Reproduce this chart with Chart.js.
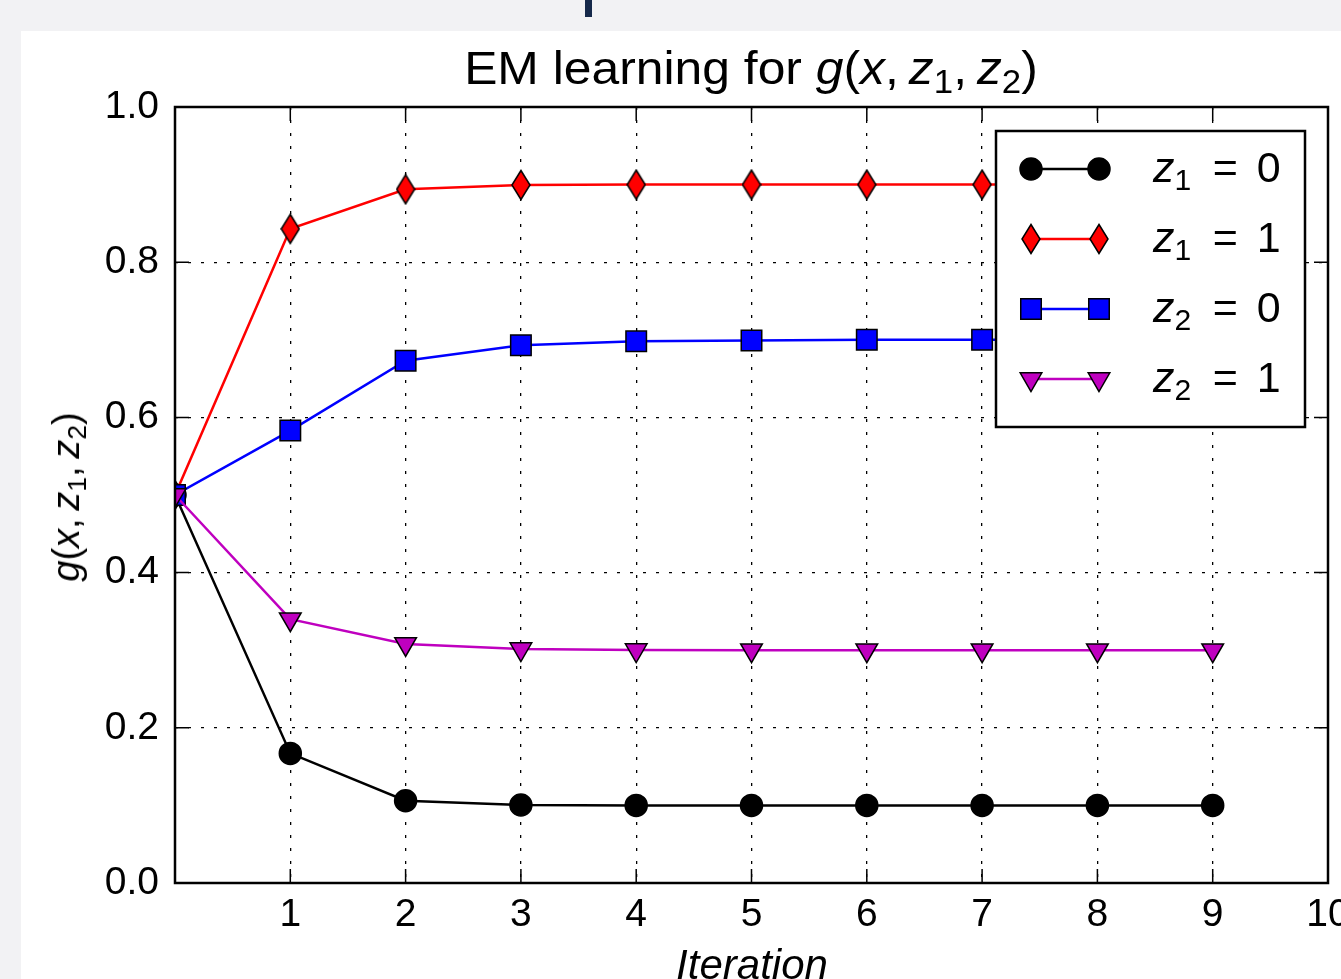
<!DOCTYPE html>
<html>
<head>
<meta charset="utf-8">
<script src="https://cdn.jsdelivr.net/npm/chart.js@4"></script>
<style>
  body { margin:0; width:1341px; height:979px; overflow:hidden; background:#f2f2f4; position:relative; font-family:"Liberation Sans", Arial, sans-serif; }
  #topbar { position:absolute; left:585px; top:0; width:7px; height:17px; background:#16294a; }
  #fig { position:absolute; left:21px; top:31px; right:0; bottom:0; background:#fff; }
  #chart { position:absolute; left:0; top:0; }
  .txt { position:absolute; color:#000; white-space:nowrap; line-height:1; }
  #title { left:751px; top:44px; transform:translateX(-50%) scaleX(1.06); font-size:47px; }
  #xlabel { left:752px; top:944px; transform:translateX(-50%); font-size:42px; font-style:italic; }
  #ylabel { left:66px; top:497px; transform:translate(-50%,-50%) rotate(-90deg); font-size:38px; }
  sub { font-size:70%; vertical-align:-0.28em; line-height:0; }
  .leg { font-size:43px; transform:translateY(-50%); }
  .leg .v { margin-left:7px; }
</style>
</head>
<body>
<div id="topbar"></div>
<div id="fig"></div>
<canvas id="chart" width="1400" height="979"></canvas>
<div class="txt" id="title">EM learning for <i>g</i>(<i>x</i>,&thinsp;<i>z</i><sub>1</sub>,&thinsp;<i>z</i><sub>2</sub>)</div>
<div class="txt" id="xlabel">Iteration</div>
<div class="txt" id="ylabel"><i>g</i>(<i>x</i>,&thinsp;<i>z</i><sub>1</sub>,&thinsp;<i>z</i><sub>2</sub>)</div>
<script>
const iterations = [0, 1, 2, 3, 4, 5, 6, 7, 8, 9];
const z1Is0 = [0.5, 0.167, 0.106, 0.1005, 0.1, 0.1, 0.1, 0.1, 0.1, 0.1];
const z1Is1 = [0.5, 0.843, 0.894, 0.8995, 0.9, 0.9, 0.9, 0.9, 0.9, 0.9];
const z2Is0 = [0.5, 0.583, 0.673, 0.693, 0.698, 0.699, 0.7, 0.7, 0.7, 0.7];
const z2Is1 = [0.5, 0.340, 0.308, 0.3015, 0.3002, 0.3, 0.3, 0.3, 0.3, 0.3];
const legendLabels = [['1', '0'], ['1', '1'], ['2', '0'], ['2', '1']];
const xTickLabels = ['', '1', '2', '3', '4', '5', '6', '7', '8', '9', '10'];
const yTickLabels = ['0.0', '0.2', '0.4', '0.6', '0.8', '1.0'];

const toPoints = arr => iterations.map((x, i) => ({ x: x, y: arr[i] }));

// matplotlib's thin diamond 'd' marker
function thinDiamond(color) {
  const c = document.createElement('canvas');
  c.width = 20; c.height = 32;
  const g = c.getContext('2d');
  g.beginPath();
  g.moveTo(10, 1.5); g.lineTo(19, 16); g.lineTo(10, 30.5); g.lineTo(1, 16);
  g.closePath();
  g.fillStyle = color; g.fill();
  g.lineWidth = 1.5; g.strokeStyle = '#000'; g.stroke();
  return c;
}

const common = { borderWidth: 2.5, pointBorderColor: '#000', pointBorderWidth: 1.5, clip: 0, fill: false, tension: 0 };

const tickLen = 14;
const framePlugin = {
  id: 'frame',
  afterDatasetsDraw(chart) {
    const { ctx, chartArea: a, scales: { x, y } } = chart;
    ctx.save();
    ctx.strokeStyle = '#000';
    ctx.lineWidth = 1.5;
    ctx.beginPath();
    x.ticks.forEach(t => {
      const px = x.getPixelForValue(t.value);
      ctx.moveTo(px, a.bottom); ctx.lineTo(px, a.bottom - tickLen);
      ctx.moveTo(px, a.top); ctx.lineTo(px, a.top + tickLen);
    });
    y.ticks.forEach(t => {
      const py = y.getPixelForValue(t.value);
      ctx.moveTo(a.left, py); ctx.lineTo(a.left + tickLen, py);
      ctx.moveTo(a.right, py); ctx.lineTo(a.right - tickLen, py);
    });
    ctx.stroke();
    ctx.lineWidth = 2.5;
    ctx.strokeRect(a.left, a.top, a.right - a.left, a.bottom - a.top);

    // legend box
    const lx = a.right - 332, ly = a.top + 24, lw = 309, lh = 296;
    ctx.fillStyle = '#fff';
    ctx.fillRect(lx, ly, lw, lh);
    ctx.strokeRect(lx, ly, lw, lh);
    chart.data.datasets.forEach((ds, i) => {
      const rowY = ly + 38 + i * 70;
      const x1 = lx + 35, x2 = lx + 103;
      ctx.lineWidth = ds.borderWidth;
      ctx.strokeStyle = ds.borderColor;
      ctx.beginPath(); ctx.moveTo(x1, rowY); ctx.lineTo(x2, rowY); ctx.stroke();
      const el = chart.getDatasetMeta(i).data[1];
      const ox = el.x, oy = el.y;
      [x1, x2].forEach(px => { el.x = px; el.y = rowY; el.draw(ctx); });
      el.x = ox; el.y = oy;
    });
    ctx.restore();
  }
};

const tickFont = { family: 'Liberation Sans', size: 39 };

const chart = new Chart(document.getElementById('chart'), {
  type: 'line',
  data: {
    datasets: [
      Object.assign({ label: 'z1 = 0', data: toPoints(z1Is0), borderColor: '#000', pointBackgroundColor: '#000', pointStyle: 'circle', pointRadius: 11, order: 4 }, common),
      Object.assign({ label: 'z1 = 1', data: toPoints(z1Is1), borderColor: '#ff0000', pointBackgroundColor: '#ff0000', pointStyle: thinDiamond('#ff0000'), pointRadius: 11, order: 3 }, common),
      Object.assign({ label: 'z2 = 0', data: toPoints(z2Is0), borderColor: '#0000ff', pointBackgroundColor: '#0000ff', pointStyle: 'rect', pointRadius: 14.5, order: 2 }, common),
      Object.assign({ label: 'z2 = 1', data: toPoints(z2Is1), borderColor: '#bf00bf', pointBackgroundColor: '#bf00bf', pointStyle: 'triangle', pointRotation: 180, pointRadius: 12.5, order: 1 }, common)
    ]
  },
  options: {
    responsive: false,
    animation: false,
    devicePixelRatio: 1,
    layout: { padding: { left: 0, top: 107, right: 72, bottom: 0 } },
    plugins: { legend: { display: false }, tooltip: { enabled: false } },
    scales: {
      x: {
        type: 'linear', min: 0, max: 10,
        afterFit: s => { s.height = 96; },
        grid: { color: '#000', lineWidth: 1.3, drawTicks: false },
        border: { display: false, dash: [3, 10] },
        ticks: { stepSize: 1, padding: 9, color: '#000', font: tickFont,
          callback: v => xTickLabels[Math.round(v)] }
      },
      y: {
        min: 0, max: 1,
        afterFit: s => { s.width = 175; },
        grid: { color: '#000', lineWidth: 1.3, drawTicks: false },
        border: { display: false, dash: [3, 10] },
        ticks: { stepSize: 0.2, padding: 16, color: '#000', font: tickFont,
          callback: v => yTickLabels[Math.round(v * 5)] }
      }
    }
  },
  plugins: [framePlugin]
});

// legend labels, placed in the box drawn by the plugin
const area = chart.chartArea;
legendLabels.forEach((l, i) => {
  const d = document.createElement('div');
  d.className = 'txt leg';
  d.style.left = (area.right - 332 + 157) + 'px';
  d.style.top = (area.top + 24 + 36 + i * 70) + 'px';
  d.innerHTML = '<i>z</i><sub>' + l[0] + '</sub>&ensp;= <span class="v">' + l[1] + '</span>';
  document.body.appendChild(d);
});
</script>
</body>
</html>
